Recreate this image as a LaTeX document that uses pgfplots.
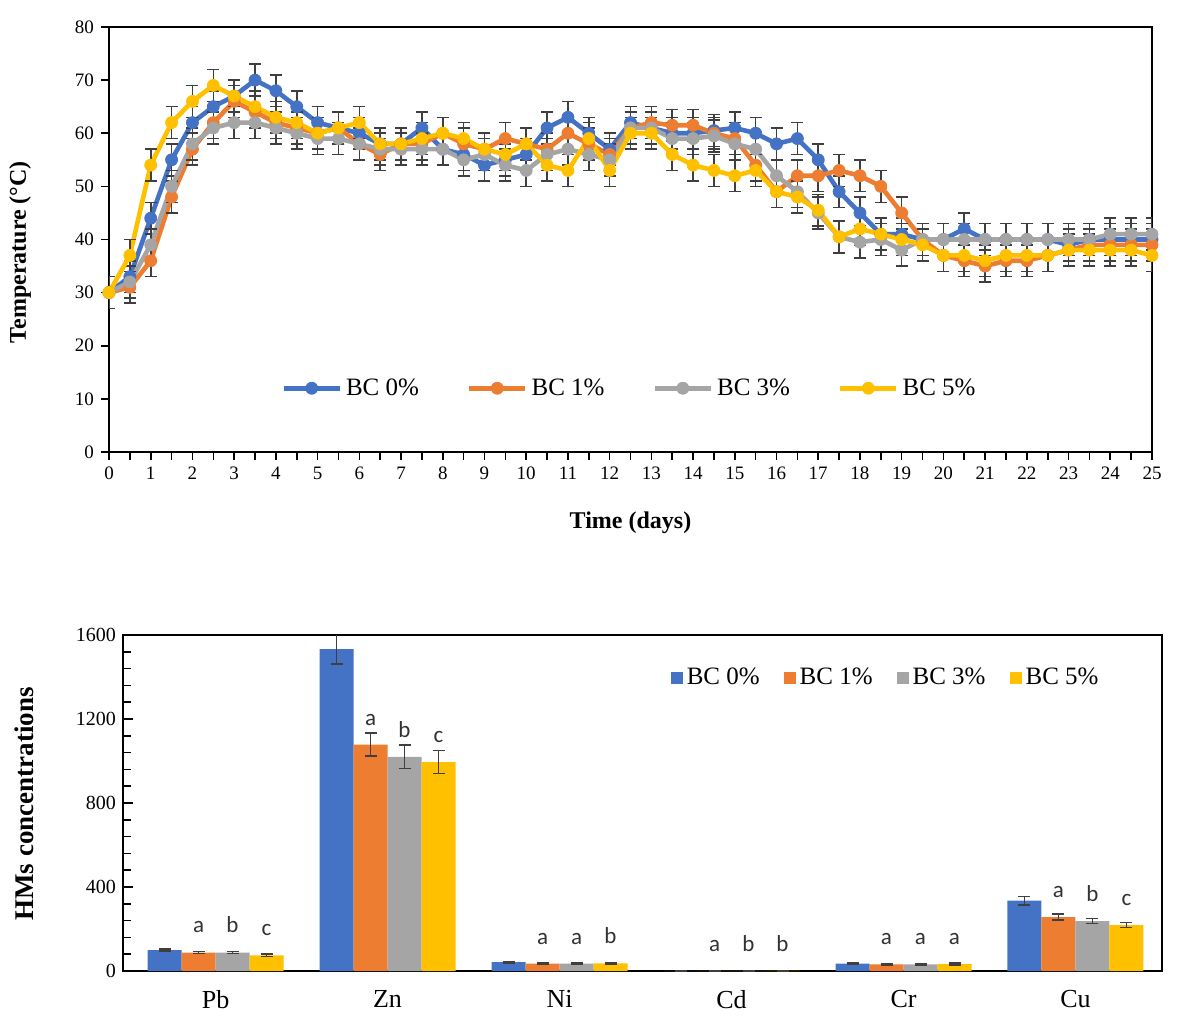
\documentclass[border=0pt]{standalone}
\usepackage{pgfplots}
\pgfplotsset{compat=1.18}
\usepackage{pgfplotstable}
\usepackage{fontspec}
\setmainfont{Liberation Serif}
\newfontfamily\carlito{Carlito}
\definecolor{cBlue}{HTML}{4472C4}
\definecolor{cOrange}{HTML}{ED7D31}
\definecolor{cGray}{HTML}{A5A5A5}
\definecolor{cYellow}{HTML}{FFC000}
\definecolor{cErr}{HTML}{3F3F3F}

\pgfplotstableread{
t b0 b1 b3 b5
0 30 30 30 30
0.5 33 31 32 37
1 44 36 39 54
1.5 55 48 50 62
2 62 57 58 66
2.5 65 62 61 69
3 67 66 62 67
3.5 70 64 62 65
4 68 62 61 63
4.5 65 61 60 62
5 62 60 59 60
5.5 61 61 59 61
6 60 58 58 62
6.5 58 56 57 58
7 58 58 57 58
7.5 61 58 57 59
8 57 60 57 60
8.5 56 58 55 59
9 54 57 56 57
9.5 55 59 54 56
10 56 58 53 58
10.5 61 57 56 54
11 63 60 57 53
11.5 60 58 56 59
12 57 56 55 53
12.5 62 61 61 60
13 61 62 61 60
13.5 60 61.5 59 56
14 60 61.5 59 54
14.5 60.5 60 59.5 53
15 61 59 58 52
15.5 60 54 57 53
16 58 49 52 49
16.5 59 52 49 48
17 55 52 45 45.5
17.5 49 53 40.5 40.5
18 45 52 39.5 42
18.5 41 50 40 41
19 41 45 38 40
19.5 40 40 40 39
20 40 37 40 37
20.5 42 36 40 37
21 40 35 40 36
21.5 40 36 40 37
22 40 36 40 37
22.5 40 37 40 37
23 39 38 40 38
23.5 40 39 40 38
24 40 39 41 38
24.5 40 39 41 38
25 40 39 41 37
}\temps

\pgfplotstableread{
x y e
0 100 6
1 1533 70
2 42 4
3 1 0.5
4 35 4
5 335 20
}\barA
\pgfplotstableread{
x y e l
0 88 5 a
1 1078 55 a
2 35 4 a
3 0.6 0.3 a
4 32 4 a
5 257 15 a
}\barB
\pgfplotstableread{
x y e l
0 88 5 b
1 1020 55 b
2 35 4 a
3 0.5 0.3 b
4 32 4 a
5 238 12 b
}\barC
\pgfplotstableread{
x y e l
0 75 5 c
1 995 55 c
2 36 4 b
3 0.5 0.3 b
4 33 4 a
5 219 12 c
}\barD

\pgfplotsset{
  lineser/.style={color=#1, line width=2.3pt, mark=*, mark size=3pt,
    mark options={fill=#1, line width=0.4pt, solid},
    error bars/.cd, y dir=both, y fixed=3,
    error bar style={cErr, line width=0.8pt},
    error mark options={rotate=90, mark size=3pt, cErr, line width=0.8pt}},
  sqleg/.style={legend image code/.code={\fill[##1] (0pt,-3pt) rectangle (6pt,3pt);}},
  barerr/.style={error bars/.cd, y dir=both, y explicit,
    error bar style={cErr, line width=0.8pt},
    error mark options={rotate=90, mark size=3pt, cErr, line width=0.8pt}},
}

\begin{document}
\begin{tikzpicture}
\path[draw=none] (0pt,0pt) rectangle (600pt,-510.5pt);

\begin{axis}[
  at={(54.5pt,-226pt)}, anchor=south west,
  scale only axis, width=521.5pt, height=212.5pt,
  xmin=0, xmax=25, ymin=0, ymax=80,
  xtick={0,1,...,25}, minor x tick num=1,
  ytick={0,10,...,80},
  xtick pos=bottom, ytick pos=left,
  tick align=outside,
  major tick length=4pt, minor tick length=4pt,
  tick style={black, line width=0.8pt},
  axis line style={black, line width=1pt},
  ticklabel style={font=\fontsize{9.5}{10}\selectfont},
  /pgf/number format/assume math mode=true,
  xlabel={\textbf{Time (days)}},
  ylabel={\textbf{Temperature (°C)}},
  xlabel style={font=\fontsize{12}{12}\selectfont, at={(axis description cs:0.5,0)}, anchor=center, yshift=-35.5pt},
  ylabel style={font=\fontsize{12}{12}\selectfont, at={(axis description cs:-0.0853,0.47)}, anchor=center},
  legend style={at={(axis description cs:0.5,0.15)}, anchor=center, draw=none, fill=none,
    legend columns=4, font=\fontsize{12.5}{13}\selectfont,
    /tikz/every even column/.append style={column sep=22pt}},
  legend image code/.code={\draw[mark repeat=2,mark phase=2,#1] plot coordinates {(0pt,0pt)(14pt,0pt)(28pt,0pt)};},
]
\addplot[lineser=cBlue] table[x=t,y=b0]{\temps};
\addlegendentry{BC 0\%}
\addplot[lineser=cOrange] table[x=t,y=b1]{\temps};
\addlegendentry{BC 1\%}
\addplot[lineser=cGray] table[x=t,y=b3]{\temps};
\addlegendentry{BC 3\%}
\addplot[lineser=cYellow] table[x=t,y=b5]{\temps};
\addlegendentry{BC 5\%}
\end{axis}

\begin{axis}[
  at={(61.5pt,-485.5pt)}, anchor=south west,
  scale only axis, width=519.5pt, height=168pt,
  ybar=0pt, bar width=17pt,
  xmin=-0.538, xmax=5.503, ymin=0, ymax=1600,
  xtick={0,...,5}, xticklabels={Pb,Zn,Ni,Cd,Cr,Cu},
  x tick style={draw=none},
  ytick={0,400,...,1600}, minor y tick num=4,
  ytick pos=left, tick align=inside,
  major tick length=5pt, minor tick length=4pt,
  tick style={black, line width=0.8pt},
  axis line style={black, line width=1.2pt},
  yticklabel style={font=\fontsize{10}{10}\selectfont, /pgf/number format/1000 sep={}},
  xticklabel style={font=\fontsize{13}{13}\selectfont, yshift=-6pt},
  /pgf/number format/assume math mode=true,
  ylabel={\textbf{HMs concentrations}},
  ylabel style={font=\fontsize{13.5}{14}\selectfont, at={(axis description cs:-0.0952,0.497)}, anchor=center},
  legend style={at={(axis description cs:0.735,0.872)}, anchor=center, draw=none, fill=none,
    legend columns=4, font=\fontsize{12.5}{13}\selectfont,
    /tikz/every even column/.append style={column sep=10pt}},
  nodes near coords style={font=\carlito\fontsize{11.5}{12}\selectfont, inner sep=0pt, anchor=south, yshift=9.5pt, text=black!80},
]
\addplot[fill=cBlue, draw=none, sqleg, barerr] table[x=x,y=y,y error=e]{\barA};
\addlegendentry{BC 0\%}
\addplot[fill=cOrange, draw=none, sqleg, nodes near coords, point meta=explicit symbolic, barerr] table[x=x,y=y,y error=e,meta=l]{\barB};
\addlegendentry{BC 1\%}
\addplot[fill=cGray, draw=none, sqleg, nodes near coords, point meta=explicit symbolic, barerr] table[x=x,y=y,y error=e,meta=l]{\barC};
\addlegendentry{BC 3\%}
\addplot[fill=cYellow, draw=none, sqleg, nodes near coords, point meta=explicit symbolic, barerr] table[x=x,y=y,y error=e,meta=l]{\barD};
\addlegendentry{BC 5\%}
\end{axis}
\end{tikzpicture}
\end{document}
